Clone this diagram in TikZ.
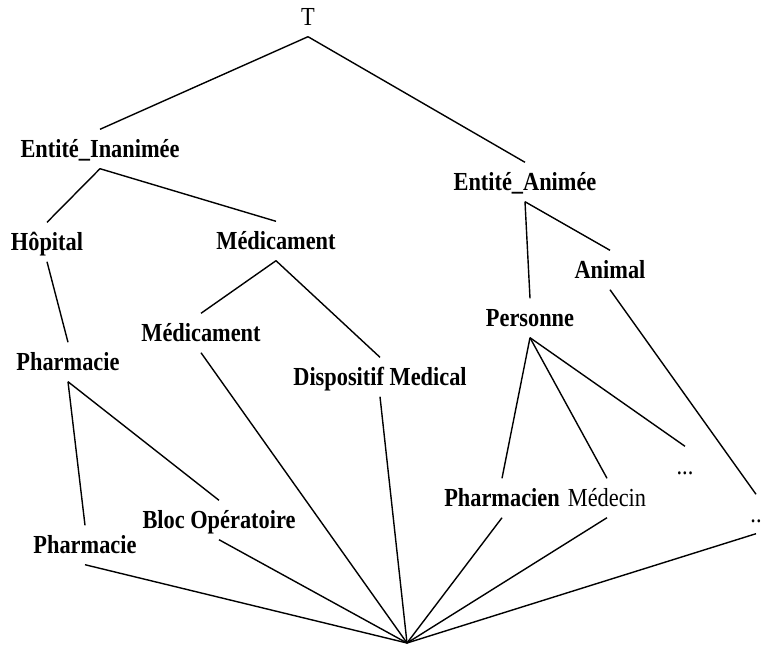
\documentclass[tikz,border=0pt]{standalone}
\usepackage{fontspec}
\setmainfont{Liberation Serif}[FakeStretch=0.86]
\begin{document}
\begin{tikzpicture}[x=1pt,y=-1pt,
  lbl/.style={font=\fontsize{26}{28}\selectfont\bfseries, inner xsep=0pt, inner ysep=5pt, text height=23pt, text depth=6pt, anchor=center},
  lblr/.style={lbl, font=\fontsize{26}{28}\selectfont},
  edge/.style={line width=1.4pt, black}]
\useasboundingbox (0,0) rectangle (763,646);
\node[lblr] (T) at (308,17) {T};
\node[lbl] (EI) at (100,149) {Entité\_Inanimée};
\node[lbl] (EA) at (525,182) {Entité\_Animée};
\node[lbl] (Hop) at (47,242) {Hôpital};
\node[lbl] (MedA) at (276,241) {Médicament};
\node[lbl] (Anim) at (610,270) {Animal};
\node[lbl] (Pers) at (530,318) {Personne};
\node[lbl] (MedB) at (201,333) {Médicament};
\node[lbl] (PhA) at (68,362) {Pharmacie};
\node[lbl] (Disp) at (380,377) {Dispositif Medical};
\node[lblr] (DotsA) at (685,466) {...};
\node[lbl] (Phn) at (502,498) {Pharmacien};
\node[lblr] (Medc) at (607,498) {Médecin};
\node[lblr] (DotsB) at (756,514) {..};
\node[lbl] (Bloc) at (219,520) {Bloc Opératoire};
\node[lbl] (PhB) at (85,545) {Pharmacie};
\coordinate (bot) at (407,643);
\draw[edge] (T.south) -- (EI.north);
\draw[edge] (T.south) -- (EA.north);
\draw[edge] (EI.south) -- (Hop.north);
\draw[edge] (EI.south) -- (MedA.north);
\draw[edge] (EA.south) -- (Pers.north);
\draw[edge] (EA.south) -- (Anim.north);
\draw[edge] (Hop.south) -- (PhA.north);
\draw[edge] (MedA.south) -- (MedB.north);
\draw[edge] (MedA.south) -- (Disp.north);
\draw[edge] (PhA.south) -- (PhB.north);
\draw[edge] (PhA.south) -- (Bloc.north);
\draw[edge] (Pers.south) -- (Phn.north);
\draw[edge] (Pers.south) -- (Medc.north);
\draw[edge] (Pers.south) -- (DotsA.north);
\draw[edge] (Anim.south) -- (DotsB.north);
\draw[edge] (PhB.south) -- (bot);
\draw[edge] (Bloc.south) -- (bot);
\draw[edge] (MedB.south) -- (bot);
\draw[edge] (Disp.south) -- (bot);
\draw[edge] (Phn.south) -- (bot);
\draw[edge] (Medc.south) -- (bot);
\draw[edge] (DotsB.south) -- (bot);
\end{tikzpicture}
\end{document}
